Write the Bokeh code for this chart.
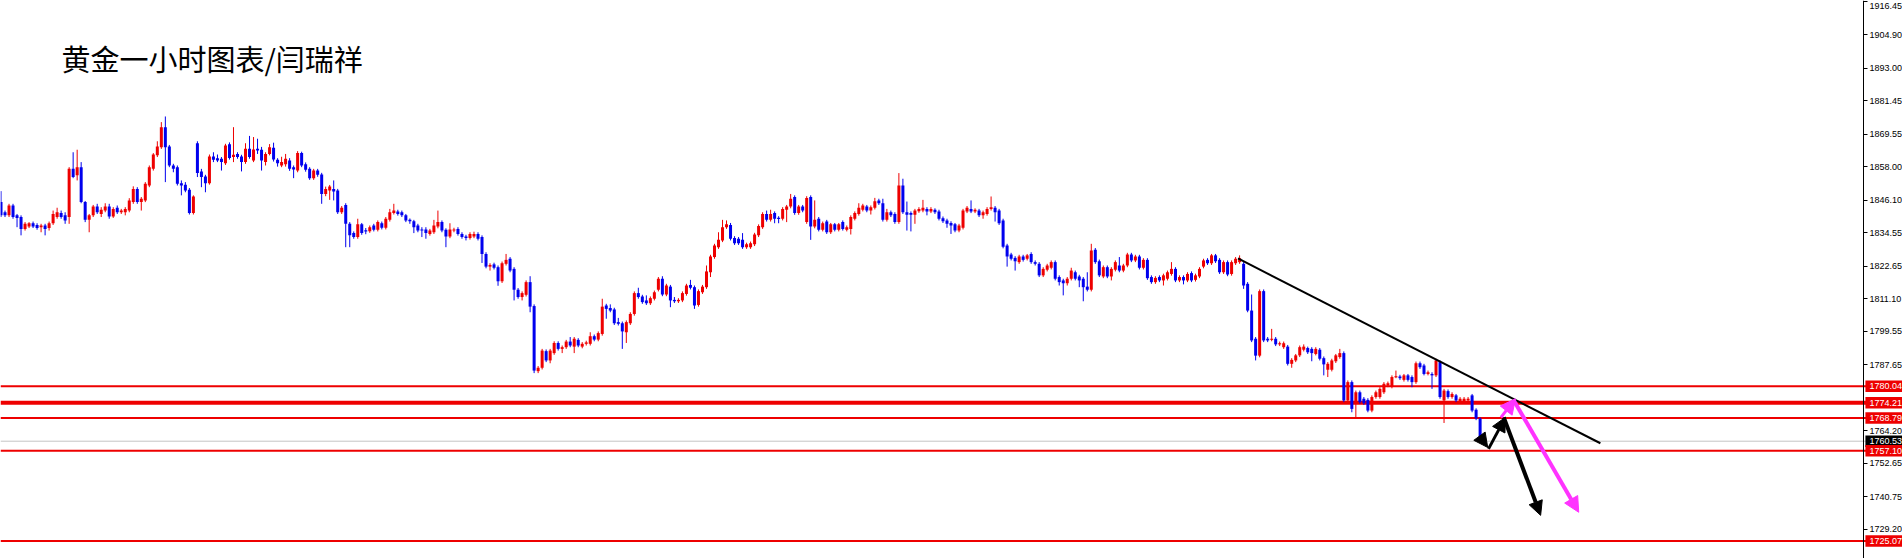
from bokeh.plotting import figure
from bokeh.models import (Range1d, FixedTicker, Span, Label,
                          Arrow, NormalHead, ColumnDataSource)
from bokeh.core.properties import value
from bokeh.embed import file_html
from bokeh.resources import INLINE

# ---------------- data ----------------
chart_title = "黄金一小时图表/闫瑞祥"

opens = [
    1845.4, 1841.8, 1840.7, 1844.2, 1840.7, 1840.1, 1835.9, 1836.7, 1837.9, 1837.3,
    1836.5, 1837.1, 1836.2, 1837.9, 1840.1, 1841.5, 1840.7, 1840.1, 1857.2, 1854.9,
    1857.8, 1845.4, 1839.1, 1840.7, 1843.8, 1841.2, 1842.4, 1843.8, 1840.3, 1843.4,
    1841.8, 1841.8, 1842.4, 1845.4, 1850.1, 1845.4, 1846.0, 1851.3, 1857.2, 1862.0,
    1864.9, 1872.0, 1865.1, 1858.4, 1857.8, 1852.1, 1851.6, 1849.8, 1841.5, 1866.3,
    1856.3, 1854.5, 1852.1, 1861.6, 1861.0, 1860.8, 1859.2, 1865.9, 1861.4, 1862.5,
    1861.6, 1859.6, 1864.3, 1860.2, 1864.3, 1864.0, 1859.6, 1862.5, 1864.7, 1860.4,
    1858.4, 1858.8, 1860.2, 1857.8, 1856.6, 1862.8, 1858.8, 1857.2, 1853.9, 1856.6,
    1855.2, 1848.3, 1849.5, 1850.1, 1849.5, 1841.8, 1844.4, 1837.7, 1834.4, 1833.0,
    1837.5, 1835.3, 1835.1, 1837.1, 1835.6, 1837.9, 1836.3, 1839.1, 1841.5, 1842.1,
    1841.8, 1840.7, 1839.1, 1838.6, 1837.1, 1835.7, 1835.7, 1834.1, 1834.7, 1836.7,
    1838.3, 1835.6, 1833.2, 1835.3, 1835.9, 1834.1, 1833.2, 1832.7, 1833.2, 1834.1,
    1833.0, 1827.0, 1822.5, 1823.3, 1822.3, 1817.3, 1823.5, 1825.3, 1821.7, 1814.3,
    1811.7, 1812.5, 1817.0, 1808.5, 1785.4, 1786.6, 1792.5, 1789.2, 1791.8, 1795.4,
    1793.3, 1793.9, 1795.9, 1794.1, 1796.5, 1794.1, 1795.1, 1795.1, 1797.8, 1796.6,
    1798.6, 1808.7, 1807.8, 1807.3, 1802.8, 1802.4, 1799.2, 1802.4, 1805.7, 1813.1,
    1811.9, 1810.5, 1809.5, 1811.1, 1814.3, 1818.2, 1812.6, 1815.4, 1810.7, 1810.2,
    1810.5, 1812.8, 1816.0, 1815.2, 1808.9, 1813.4, 1815.2, 1820.5, 1825.9, 1829.4,
    1831.8, 1836.5, 1837.3, 1832.7, 1832.4, 1832.0, 1829.4, 1829.4, 1830.4, 1833.6,
    1836.5, 1841.2, 1839.1, 1841.5, 1839.8, 1839.5, 1842.7, 1843.8, 1847.2, 1841.5,
    1843.8, 1838.3, 1847.2, 1836.7, 1839.5, 1835.6, 1838.5, 1834.7, 1837.5, 1835.6,
    1838.3, 1835.6, 1835.9, 1839.5, 1841.2, 1842.7, 1843.8, 1842.4, 1843.4, 1846.0,
    1845.0, 1839.1, 1841.8, 1841.2, 1838.3, 1851.3, 1841.8, 1841.5, 1840.9, 1842.2,
    1842.4, 1843.0, 1842.1, 1842.7, 1842.1, 1839.7, 1838.9, 1838.0, 1837.5, 1835.3,
    1836.3, 1842.1, 1843.0, 1842.1, 1842.4, 1840.7, 1841.2, 1843.0, 1843.4, 1842.4,
    1838.9, 1830.0, 1826.8, 1825.6, 1824.1, 1826.1, 1825.3, 1827.0, 1824.1, 1823.5,
    1819.4, 1821.4, 1822.1, 1824.1, 1818.8, 1817.6, 1816.6, 1818.2, 1820.5, 1819.0,
    1818.2, 1815.4, 1814.3, 1828.5, 1824.4, 1819.0, 1822.3, 1819.0, 1821.4, 1822.9,
    1821.1, 1822.9, 1826.8, 1824.7, 1826.1, 1822.1, 1824.9, 1818.8, 1817.0, 1818.8,
    1817.6, 1818.2, 1819.9, 1821.7, 1817.6, 1818.8, 1817.6, 1820.2, 1817.8, 1819.0,
    1822.5, 1824.9, 1823.7, 1826.5, 1824.9, 1820.5, 1824.1, 1819.9, 1823.7, 1824.1,
    1823.5, 1816.4, 1806.9, 1796.9, 1790.9, 1813.8, 1796.9, 1796.5, 1796.9, 1794.9,
    1793.9, 1794.1, 1788.0, 1789.2, 1791.0, 1793.0, 1793.6, 1793.3, 1791.5, 1793.0,
    1790.0, 1785.9, 1785.9, 1788.9, 1790.4, 1791.8, 1775.0, 1781.5, 1774.4, 1777.9,
    1775.6, 1775.2, 1771.4, 1776.2, 1776.2, 1777.9, 1780.3, 1779.9, 1783.3, 1783.5,
    1782.3, 1783.9, 1783.3, 1781.5, 1788.2, 1787.4, 1784.4, 1784.4, 1783.9, 1788.6,
    1775.0, 1778.3, 1776.2, 1776.8, 1774.4, 1774.4, 1775.0, 1776.8, 1771.7, 1768.6,
]

highs = [
    1849.3, 1842.4, 1844.8, 1844.8, 1841.2, 1840.7, 1838.3, 1838.3, 1838.5, 1837.9,
    1837.7, 1837.7, 1838.5, 1842.4, 1843.4, 1842.4, 1841.8, 1857.8, 1863.1, 1864.0,
    1859.6, 1845.8, 1841.2, 1844.4, 1844.8, 1843.6, 1845.0, 1844.8, 1843.6, 1844.2,
    1843.0, 1843.6, 1846.8, 1851.0, 1850.7, 1847.2, 1852.5, 1858.4, 1862.8, 1867.0,
    1873.8, 1875.8, 1865.7, 1859.0, 1858.4, 1853.1, 1852.5, 1850.4, 1847.8, 1867.0,
    1857.2, 1855.1, 1862.3, 1863.1, 1862.3, 1861.4, 1866.1, 1866.6, 1872.0, 1863.1,
    1862.2, 1866.3, 1868.9, 1868.5, 1867.9, 1865.0, 1863.1, 1866.0, 1866.5, 1861.0,
    1861.5, 1862.5, 1861.0, 1858.4, 1863.5, 1863.3, 1859.5, 1857.8, 1857.2, 1857.2,
    1855.8, 1850.9, 1851.5, 1853.1, 1850.1, 1844.0, 1845.0, 1838.3, 1835.0, 1839.5,
    1838.0, 1836.2, 1837.1, 1837.7, 1838.9, 1838.5, 1840.1, 1843.0, 1844.8, 1842.7,
    1842.4, 1841.2, 1839.6, 1839.1, 1837.7, 1836.5, 1836.5, 1835.9, 1839.1, 1842.4,
    1838.9, 1836.1, 1837.9, 1836.3, 1836.5, 1834.7, 1833.8, 1834.7, 1834.9, 1834.7,
    1833.6, 1827.6, 1823.7, 1823.9, 1822.9, 1824.3, 1827.0, 1825.9, 1822.3, 1814.9,
    1813.7, 1817.6, 1819.1, 1809.1, 1787.2, 1793.3, 1793.1, 1793.3, 1796.0, 1796.0,
    1794.5, 1796.5, 1797.5, 1797.5, 1797.1, 1795.7, 1796.2, 1799.2, 1798.4, 1799.5,
    1811.1, 1809.3, 1809.1, 1807.9, 1804.3, 1803.0, 1803.4, 1806.3, 1813.7, 1815.0,
    1812.5, 1812.3, 1811.9, 1814.0, 1818.8, 1819.1, 1816.4, 1816.0, 1811.7, 1811.3,
    1813.7, 1816.4, 1817.8, 1815.8, 1814.4, 1816.0, 1822.9, 1826.7, 1830.6, 1834.7,
    1839.1, 1838.9, 1838.0, 1833.3, 1833.0, 1834.4, 1831.0, 1831.4, 1834.5, 1837.5,
    1841.8, 1842.4, 1842.7, 1842.1, 1840.4, 1843.6, 1844.4, 1848.3, 1847.8, 1844.4,
    1844.4, 1847.5, 1847.8, 1846.0, 1840.1, 1838.5, 1839.1, 1838.0, 1838.0, 1838.0,
    1838.9, 1837.1, 1840.7, 1842.1, 1845.0, 1844.8, 1844.4, 1844.2, 1846.9, 1846.6,
    1846.6, 1843.0, 1842.4, 1841.8, 1855.7, 1853.7, 1845.6, 1842.1, 1843.0, 1843.6,
    1846.2, 1843.6, 1843.6, 1843.2, 1842.7, 1840.3, 1839.5, 1838.6, 1838.0, 1837.7,
    1843.0, 1844.0, 1846.0, 1843.2, 1843.0, 1842.4, 1843.6, 1847.4, 1844.0, 1843.0,
    1839.5, 1830.6, 1827.4, 1826.2, 1826.7, 1826.7, 1827.0, 1827.6, 1824.7, 1824.1,
    1822.3, 1823.5, 1824.7, 1824.7, 1819.4, 1818.2, 1818.8, 1822.1, 1821.1, 1819.6,
    1818.8, 1820.5, 1830.6, 1829.1, 1825.0, 1822.9, 1822.9, 1822.3, 1824.7, 1825.9,
    1823.5, 1827.4, 1827.4, 1826.7, 1826.7, 1825.5, 1825.5, 1819.4, 1819.1, 1819.4,
    1820.0, 1821.1, 1824.1, 1822.3, 1819.4, 1819.4, 1820.5, 1820.8, 1820.0, 1822.3,
    1825.3, 1825.5, 1827.0, 1827.0, 1825.5, 1824.7, 1824.7, 1824.7, 1825.9, 1826.5,
    1824.1, 1817.0, 1812.6, 1797.5, 1814.4, 1814.4, 1797.5, 1800.4, 1797.5, 1795.9,
    1795.9, 1794.7, 1790.0, 1791.5, 1794.5, 1794.9, 1794.1, 1793.9, 1793.9, 1793.6,
    1790.6, 1788.6, 1789.8, 1791.5, 1793.3, 1792.4, 1782.1, 1782.1, 1778.5, 1778.5,
    1776.2, 1775.8, 1776.8, 1778.5, 1779.7, 1781.5, 1781.7, 1783.9, 1785.6, 1784.1,
    1784.4, 1784.4, 1783.9, 1788.8, 1788.8, 1788.0, 1785.6, 1785.0, 1789.8, 1789.2,
    1779.1, 1778.9, 1777.9, 1777.3, 1776.2, 1776.2, 1776.2, 1777.3, 1772.2, 1769.0,
]

lows = [
    1840.1, 1840.1, 1840.1, 1839.5, 1836.5, 1833.6, 1835.3, 1836.2, 1836.2, 1835.6,
    1834.7, 1833.6, 1835.3, 1837.3, 1839.5, 1839.5, 1837.7, 1837.7, 1853.9, 1853.1,
    1845.0, 1838.3, 1834.7, 1840.1, 1841.2, 1840.1, 1841.8, 1839.5, 1839.8, 1841.2,
    1841.2, 1840.7, 1841.8, 1844.8, 1844.8, 1842.4, 1845.4, 1850.7, 1856.6, 1861.4,
    1864.3, 1852.5, 1857.8, 1856.0, 1851.3, 1847.8, 1848.9, 1841.0, 1841.0, 1854.3,
    1850.7, 1848.9, 1851.6, 1859.6, 1859.6, 1856.6, 1858.6, 1860.5, 1859.6, 1860.8,
    1856.3, 1859.0, 1860.8, 1859.6, 1862.5, 1856.6, 1858.4, 1862.0, 1859.8, 1858.0,
    1857.8, 1858.0, 1856.5, 1853.9, 1856.0, 1857.8, 1856.2, 1853.3, 1853.3, 1854.4,
    1844.8, 1847.5, 1846.2, 1846.0, 1841.2, 1841.2, 1829.4, 1829.4, 1832.4, 1832.4,
    1833.8, 1834.0, 1834.5, 1835.0, 1835.0, 1835.7, 1835.7, 1838.5, 1841.0, 1840.6,
    1840.1, 1838.3, 1837.7, 1834.4, 1834.7, 1833.0, 1832.4, 1833.5, 1834.1, 1836.1,
    1834.7, 1829.4, 1832.6, 1834.7, 1833.5, 1832.4, 1831.8, 1832.1, 1832.6, 1831.8,
    1823.8, 1821.9, 1821.1, 1821.5, 1815.7, 1816.7, 1822.9, 1820.5, 1810.5, 1811.1,
    1810.5, 1811.9, 1806.3, 1784.7, 1784.7, 1786.0, 1788.6, 1788.2, 1791.2, 1792.7,
    1791.8, 1793.3, 1793.9, 1791.8, 1793.9, 1793.5, 1794.5, 1794.5, 1796.0, 1796.0,
    1798.0, 1804.0, 1806.3, 1801.8, 1801.6, 1793.3, 1795.4, 1801.8, 1805.1, 1811.1,
    1809.3, 1808.9, 1808.9, 1810.5, 1813.7, 1812.0, 1812.0, 1808.1, 1809.6, 1809.6,
    1809.9, 1812.2, 1814.4, 1807.5, 1808.3, 1812.8, 1814.6, 1818.8, 1825.3, 1828.8,
    1831.2, 1835.9, 1831.8, 1830.2, 1830.2, 1828.8, 1828.8, 1828.8, 1829.8, 1833.0,
    1835.9, 1838.5, 1838.5, 1837.9, 1837.9, 1838.9, 1838.3, 1843.2, 1840.9, 1840.9,
    1841.8, 1837.7, 1832.0, 1836.1, 1835.0, 1835.0, 1834.1, 1834.1, 1835.0, 1835.0,
    1835.3, 1835.0, 1833.9, 1838.9, 1840.6, 1842.1, 1841.8, 1841.0, 1842.8, 1844.4,
    1838.5, 1838.5, 1840.1, 1837.7, 1837.7, 1841.2, 1835.3, 1835.0, 1837.7, 1841.6,
    1841.8, 1840.7, 1841.5, 1841.2, 1838.9, 1838.0, 1836.3, 1834.1, 1834.7, 1834.7,
    1835.7, 1841.5, 1841.5, 1841.5, 1840.1, 1839.5, 1840.6, 1842.4, 1838.5, 1837.3,
    1829.0, 1822.5, 1824.7, 1821.1, 1823.5, 1824.3, 1824.7, 1823.5, 1822.9, 1818.8,
    1818.8, 1820.8, 1821.5, 1817.6, 1815.8, 1812.3, 1815.8, 1817.6, 1817.6, 1815.2,
    1810.2, 1813.7, 1813.7, 1823.5, 1818.8, 1818.4, 1818.4, 1817.6, 1820.8, 1820.5,
    1820.5, 1822.3, 1824.1, 1824.1, 1821.5, 1821.5, 1817.8, 1816.4, 1816.4, 1817.0,
    1815.8, 1817.6, 1819.3, 1817.0, 1817.0, 1816.2, 1817.0, 1817.0, 1817.2, 1818.4,
    1821.9, 1823.1, 1823.1, 1823.8, 1819.9, 1819.9, 1819.1, 1819.3, 1823.1, 1823.5,
    1814.6, 1806.3, 1795.7, 1789.2, 1790.3, 1795.7, 1795.7, 1796.0, 1794.3, 1794.3,
    1793.3, 1787.4, 1786.6, 1788.6, 1790.4, 1792.4, 1791.5, 1788.9, 1791.0, 1789.2,
    1783.9, 1783.3, 1785.3, 1788.3, 1789.8, 1774.4, 1774.4, 1770.8, 1769.1, 1773.8,
    1773.4, 1770.8, 1770.8, 1775.6, 1775.6, 1777.3, 1779.7, 1779.3, 1782.9, 1782.3,
    1781.7, 1781.7, 1779.7, 1780.9, 1786.2, 1783.9, 1783.9, 1779.1, 1783.3, 1775.6,
    1767.0, 1775.6, 1775.6, 1774.4, 1773.8, 1773.8, 1774.4, 1770.8, 1768.0, 1760.0,
]

closes = [
    1840.7, 1840.7, 1844.2, 1840.1, 1839.8, 1835.9, 1837.7, 1837.9, 1836.7, 1836.2,
    1837.1, 1835.9, 1837.9, 1841.2, 1841.8, 1840.1, 1838.9, 1857.2, 1854.3, 1857.8,
    1845.4, 1839.1, 1840.7, 1843.8, 1841.8, 1842.7, 1843.8, 1840.3, 1843.0, 1841.8,
    1842.4, 1843.0, 1846.0, 1850.1, 1845.4, 1846.6, 1851.9, 1857.8, 1862.3, 1865.1,
    1872.0, 1864.9, 1858.4, 1857.2, 1851.9, 1851.3, 1849.5, 1841.5, 1847.4, 1855.7,
    1854.3, 1852.1, 1861.6, 1860.4, 1860.2, 1859.6, 1865.5, 1861.1, 1862.2, 1861.4,
    1859.6, 1864.3, 1861.4, 1864.1, 1863.7, 1860.2, 1862.5, 1864.9, 1860.5, 1859.2,
    1859.6, 1860.8, 1857.2, 1857.0, 1862.8, 1858.4, 1856.9, 1853.9, 1856.6, 1855.1,
    1848.3, 1850.1, 1850.9, 1849.2, 1841.8, 1843.4, 1837.7, 1833.6, 1833.0, 1837.5,
    1834.4, 1835.1, 1836.5, 1835.6, 1838.3, 1836.3, 1839.5, 1841.8, 1842.4, 1841.2,
    1840.7, 1838.9, 1838.6, 1836.5, 1835.3, 1835.3, 1834.4, 1835.3, 1837.1, 1838.3,
    1835.3, 1833.2, 1835.7, 1835.7, 1834.1, 1833.0, 1832.7, 1834.1, 1834.1, 1832.4,
    1827.0, 1822.5, 1823.1, 1822.1, 1817.3, 1823.7, 1824.9, 1821.1, 1814.3, 1811.7,
    1813.1, 1817.0, 1808.3, 1785.6, 1786.6, 1792.7, 1789.2, 1792.7, 1795.4, 1793.3,
    1793.9, 1795.9, 1794.5, 1796.9, 1794.5, 1795.1, 1795.6, 1797.8, 1796.6, 1798.9,
    1808.3, 1807.5, 1806.9, 1802.4, 1802.2, 1799.5, 1802.8, 1805.7, 1813.1, 1811.7,
    1809.9, 1809.5, 1811.3, 1813.4, 1818.2, 1812.6, 1815.8, 1810.5, 1810.2, 1810.7,
    1813.1, 1815.8, 1815.0, 1808.7, 1813.8, 1815.4, 1820.8, 1826.1, 1830.0, 1832.0,
    1836.5, 1837.5, 1832.4, 1830.8, 1830.8, 1829.4, 1830.4, 1830.8, 1833.9, 1836.9,
    1841.2, 1839.1, 1841.2, 1839.5, 1839.5, 1843.0, 1843.8, 1846.6, 1841.5, 1843.8,
    1842.4, 1846.9, 1836.7, 1839.1, 1835.6, 1837.9, 1834.7, 1837.5, 1835.6, 1837.5,
    1835.9, 1836.5, 1840.1, 1841.5, 1843.4, 1844.2, 1842.4, 1843.6, 1845.7, 1845.0,
    1839.1, 1841.8, 1840.7, 1838.3, 1851.3, 1841.8, 1840.9, 1840.9, 1842.4, 1843.0,
    1843.4, 1842.1, 1843.0, 1841.8, 1839.5, 1838.6, 1837.7, 1837.1, 1835.3, 1837.1,
    1842.4, 1843.4, 1842.1, 1842.7, 1840.7, 1841.8, 1843.0, 1843.6, 1841.8, 1837.9,
    1829.6, 1826.1, 1825.3, 1824.4, 1826.1, 1824.9, 1826.5, 1824.1, 1823.5, 1819.4,
    1821.7, 1822.9, 1824.1, 1818.2, 1817.0, 1816.6, 1818.2, 1821.1, 1818.2, 1817.6,
    1815.2, 1814.3, 1828.2, 1824.1, 1819.4, 1822.3, 1819.0, 1821.7, 1824.1, 1821.1,
    1822.9, 1826.8, 1824.7, 1826.1, 1822.1, 1824.9, 1818.4, 1817.0, 1818.5, 1817.6,
    1819.4, 1820.5, 1821.7, 1817.6, 1818.8, 1817.6, 1819.9, 1817.6, 1819.4, 1821.7,
    1824.7, 1823.7, 1826.5, 1824.4, 1820.5, 1824.1, 1819.7, 1824.1, 1825.3, 1825.5,
    1815.8, 1806.9, 1796.3, 1790.9, 1813.8, 1796.3, 1796.3, 1796.9, 1794.9, 1795.3,
    1795.3, 1788.0, 1789.4, 1791.0, 1793.9, 1794.1, 1792.1, 1791.8, 1793.3, 1789.8,
    1787.8, 1788.0, 1789.2, 1791.0, 1791.8, 1775.0, 1781.5, 1772.0, 1777.9, 1774.4,
    1774.0, 1771.4, 1776.2, 1777.9, 1779.1, 1780.9, 1781.1, 1783.3, 1783.5, 1782.9,
    1783.9, 1782.3, 1781.5, 1788.2, 1786.8, 1784.4, 1785.0, 1783.9, 1789.2, 1776.2,
    1778.5, 1776.2, 1777.3, 1775.0, 1775.6, 1775.6, 1775.6, 1771.4, 1768.6, 1760.53,
]

price_ticks = [1916.45, 1904.90, 1893.00, 1881.45, 1869.55, 1858.00, 1846.10, 1834.55,
               1822.65, 1811.10, 1799.55, 1787.65, 1764.20, 1752.65, 1740.75, 1729.20]
level_prices = [1780.04, 1774.21, 1768.79, 1757.10, 1725.07]
last_price = 1760.53

trend_x = [308.6, 399.0]
trend_y = [1825.4, 1759.8]

black_arrows_x0 = [368.9, 371.1, 374.9]
black_arrows_y0 = [1762.2, 1757.8, 1769.0]
black_arrows_x1 = [370.9, 375.3, 384.1]
black_arrows_y1 = [1758.3, 1769.0, 1734.2]

pink_arrows_x0 = [374.2, 377.4]
pink_arrows_y0 = [1769.0, 1775.0]
pink_arrows_x1 = [377.8, 393.6]
pink_arrows_y1 = [1775.6, 1735.3]

# ---------------- styling / layout ----------------
RED = "#ee0000"
BLUE = "#0000ee"
WIDTH = 1902
HEIGHT = 558
TICK_OUT = 4
FRAME_W = WIDTH - TICK_OUT
PX_PER_BAR = 4.0
X0 = -0.125                      # bar i is centred at pixel 4*i + 0.5
Y_TOP, Y_BOT = 1916.97, 1718.89
PRICE_PER_PX = (Y_TOP - Y_BOT) / HEIGHT


def px_to_x(px):
    return X0 + px / PX_PER_BAR


AXIS_X = px_to_x(1859.5)        # position of the price scale line
LABEL_X = px_to_x(1865)
TAG_L, TAG_R = px_to_x(1861), px_to_x(1903)
TAG_TEXT_X = px_to_x(1865)

n = len(opens)
idx = list(range(n))
up = [c >= o for o, c in zip(opens, closes)]
body_top = []
body_bot = []
for o, c in zip(opens, closes):
    t, b = max(o, c), min(o, c)
    if t - b < 0.4:
        mid = (t + b) / 2.0
        t, b = mid + 0.2, mid - 0.2
    body_top.append(t)
    body_bot.append(b)

src = ColumnDataSource(dict(
    x=idx, high=highs, low=lows, top=body_top, bottom=body_bot,
    color=[RED if u else BLUE for u in up],
))

p = figure(width=WIDTH, height=HEIGHT, title=None,
           x_range=Range1d(X0, X0 + FRAME_W / PX_PER_BAR),
           y_range=Range1d(Y_BOT, Y_TOP),
           output_backend="svg", toolbar_location=None,
           x_axis_location=None, y_axis_location="right",
           min_border=0, background_fill_color="white",
           border_fill_color="white")
p.outline_line_color = None
p.xgrid.visible = False
p.ygrid.visible = False

# price scale: real axis placed at the scale position, its labels drawn beside it
ax = p.yaxis[0]
ax.fixed_location = AXIS_X
ax.ticker = FixedTicker(ticks=price_ticks)
ax.axis_label = None
ax.axis_line_color = "black"
ax.axis_line_width = 1
ax.major_tick_in = 0
ax.major_tick_out = TICK_OUT
ax.minor_tick_out = 0
ax.minor_tick_in = 0
ax.major_tick_line_color = "black"
ax.major_label_standoff = 0
ax.major_label_text_font_size = "0px"
ax.major_label_text_alpha = 0

# horizontal levels (drawn beneath the candles and the price tags)
level_widths = [2, 4, 2, 2, 2]
for lv, lw in zip(level_prices, level_widths):
    p.add_layout(Span(location=lv, dimension="width", line_color=RED, line_width=lw,
                      level="underlay"))
p.add_layout(Span(location=last_price, dimension="width", line_color="#c4c4c4",
                  line_width=1, level="underlay"))

# candles
p.segment(x0="x", y0="high", x1="x", y1="low", source=src, line_color="color", line_width=1)
p.vbar(x="x", width=0.75, top="top", bottom="bottom", source=src,
       fill_color="color", line_color=None)

# trend line
p.line(trend_x, trend_y, line_color="black", line_width=2)

# arrows
for i, (a, b, c, d) in enumerate(zip(black_arrows_x0, black_arrows_y0, black_arrows_x1, black_arrows_y1)):
    lw = 4 if i == 2 else 3
    p.add_layout(Arrow(end=NormalHead(size=14, fill_color="black", line_color="black"),
                       x_start=a, y_start=b, x_end=c, y_end=d,
                       line_color="black", line_width=lw))
for i, (a, b, c, d) in enumerate(zip(pink_arrows_x0, pink_arrows_y0, pink_arrows_x1, pink_arrows_y1)):
    lw = 4 if i == 1 else 3
    p.add_layout(Arrow(end=NormalHead(size=15, fill_color="#ff33ff", line_color="#ff33ff"),
                       x_start=a, y_start=b, x_end=c, y_end=d,
                       line_color="#ff33ff", line_width=lw))

# title
p.add_layout(Label(x=61, y=Y_TOP - 57 * PRICE_PER_PX, x_units="screen", y_units="data",
                   text=chart_title, text_font="Noto Sans CJK SC", text_font_size="29px",
                   text_color="black", text_baseline="middle", text_align="left"))

# price scale labels (the top one is kept fully inside the picture)
label_y = [min(t, Y_TOP - 5 * PRICE_PER_PX) for t in price_ticks]
p.text(x=[LABEL_X] * len(price_ticks), y=label_y,
       text=["%.2f" % t for t in price_ticks],
       text_font=value("Liberation Sans"), text_font_size=value("9px"),
       text_color="black", text_baseline="middle", text_align="left")

# price tags
tag_prices = [last_price] + level_prices
tag_colors = ["black"] + [RED] * len(level_prices)
half_h = 5.75 * PRICE_PER_PX
p.quad(left=[TAG_L] * len(tag_prices), right=[TAG_R] * len(tag_prices),
       top=[t + half_h for t in tag_prices], bottom=[t - half_h for t in tag_prices],
       fill_color=tag_colors, line_color=None)
p.text(x=[TAG_TEXT_X] * len(tag_prices), y=tag_prices,
       text=["%.2f" % t for t in tag_prices],
       text_font=value("Liberation Sans"), text_font_size=value("9px"),
       text_color="white", text_baseline="middle", text_align="left")

open("out.html", "w").write(file_html(p, INLINE))
